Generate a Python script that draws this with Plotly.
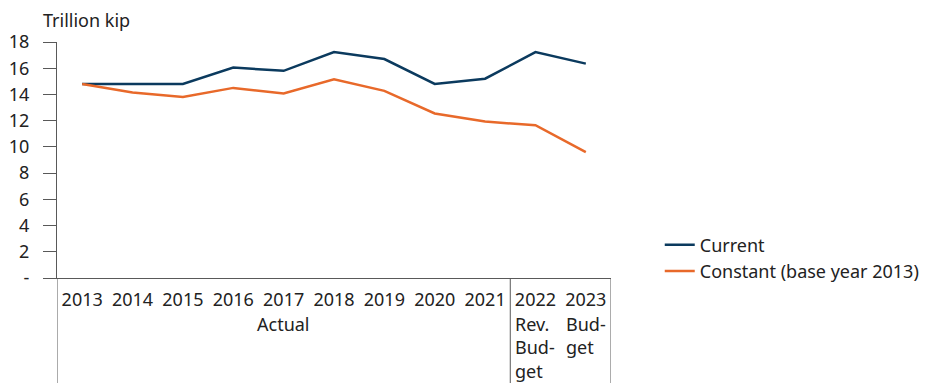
import plotly.graph_objects as go

years = ["2013", "2014", "2015", "2016", "2017", "2018", "2019", "2020", "2021", "2022", "2023"]
current = [14.8, 14.8, 14.8, 16.05, 15.8, 17.23, 16.7, 14.8, 15.2, 17.23, 16.35]
constant = [14.8, 14.15, 13.8, 14.5, 14.07, 15.15, 14.27, 12.55, 11.93, 11.65, 9.6]
group_labels = ["Actual", "Rev.<br>Bud-<br>get", "Bud-<br>get"]
group_centers = [4, 9, 10]
y_ticks = [0, 2, 4, 6, 8, 10, 12, 14, 16, 18]
y_ticktext = ["-", "2", "4", "6", "8", "10", "12", "14", "16", "18"]

FONT = "Noto Sans"
AX = "#595959"
TXT = "#222222"
FS = 18

fig = go.Figure()
fig.add_trace(go.Scatter(x=years, y=current, mode="lines", name="Current",
                         line=dict(color="#0B3A5E", width=2.5)))
fig.add_trace(go.Scatter(x=years, y=constant, mode="lines", name="Constant (base year 2013)",
                         line=dict(color="#E8692A", width=2.5)))

fig.update_layout(
    width=926, height=375,
    margin=dict(l=49, r=323, t=34, b=105, autoexpand=False),
    paper_bgcolor="white", plot_bgcolor="white",
    font=dict(family=FONT, size=FS, color=TXT),
    showlegend=True,
    legend=dict(x=1.088, y=0.085, xanchor="left", yanchor="middle",
                font=dict(family=FONT, size=FS, color=TXT),
                tracegroupgap=0, itemwidth=30),
    xaxis=dict(type="category", range=[-0.5, 10.5], showgrid=False, zeroline=False,
               showline=True, linecolor=AX, linewidth=1, ticks="", automargin=False,
               ticklabelstandoff=5,
               tickfont=dict(family=FONT, size=FS, color=TXT)),
    yaxis=dict(range=[0, 18], tickvals=y_ticks, ticktext=y_ticktext, showgrid=False,
               zeroline=False, showline=True, linecolor=AX, linewidth=1, automargin=False,
               ticks="outside", ticklen=13, tickcolor=AX, ticklabelstandoff=10,
               tickfont=dict(family=FONT, size=FS, color=TXT)),
)

# title
fig.add_annotation(text="Trillion kip", xref="paper", yref="paper", x=-0.028, y=1.0,
                   xanchor="left", yanchor="bottom", showarrow=False, yshift=8,
                   font=dict(family=FONT, size=FS, color=TXT))

# group labels
for lbl, cx in zip(group_labels, group_centers):
    fig.add_annotation(text=lbl, x=cx, xref="x", yref="paper", y=0,
                       yshift=-32, xanchor="center", yanchor="top", showarrow=False, align="left",
                       font=dict(family=FONT, size=FS, color=TXT))

# divider lines (group boundaries)
for xb in [-0.5, 8.5, 10.5]:
    fig.add_shape(type="line", xref="x", yref="paper", x0=xb, x1=xb, y0=0, y1=-0.6,
                  line=dict(color=AX, width=1))

fig.write_html("out.html")
